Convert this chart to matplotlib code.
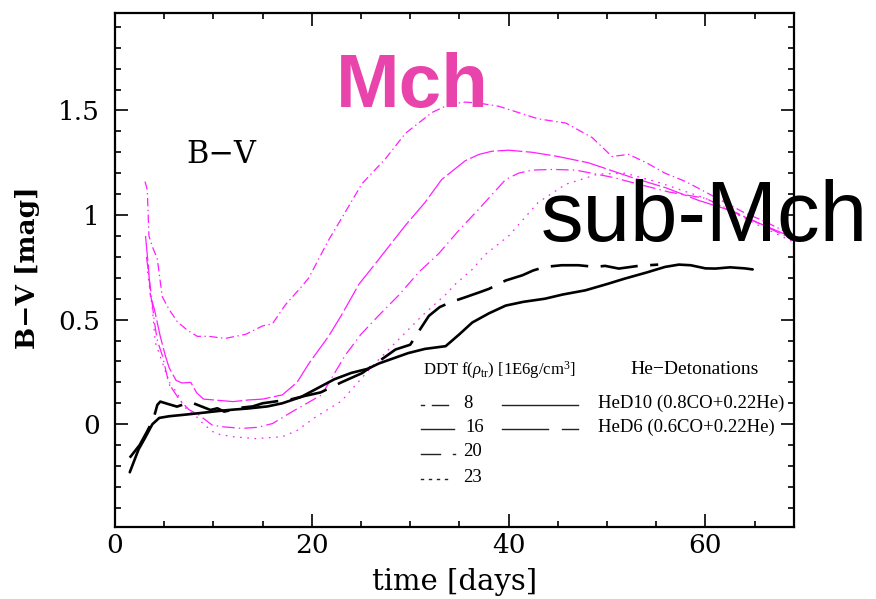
import numpy as np
import matplotlib
matplotlib.use("Agg")
import matplotlib.pyplot as plt
from matplotlib.lines import Line2D

plt.rcParams['mathtext.fontset'] = 'custom'
plt.rcParams['mathtext.rm'] = 'Liberation Serif'
plt.rcParams['mathtext.it'] = 'Liberation Serif:italic'
plt.rcParams['lines.scale_dashes'] = False

# ---------------- data ----------------
# Mch DDT models, f(rho_tr) = 8, 16, 20, 23
t8 = [3.05, 3.28, 3.45, 3.79, 4.3, 4.8, 5.48, 6.33, 7.34, 8.36, 9.54, 11.2, 13.3, 15.0, 16.0,
      17.3, 19.0, 19.7, 21.7, 23.1, 25.1, 27.5, 29.5, 32.2, 34.0, 35.6, 37.0, 39.0, 41.0, 43.0,
      45.8, 48.5, 50.5, 52.2, 54.0, 55.9, 58.0, 60.0, 62.0, 64.0, 66.0, 69.0]
v8 = [1.16, 1.12, 0.90, 0.85, 0.79, 0.61, 0.55, 0.49, 0.45, 0.42, 0.42, 0.41, 0.43, 0.47, 0.48,
      0.57, 0.66, 0.70, 0.88, 0.99, 1.15, 1.27, 1.39, 1.49, 1.53, 1.54, 1.535, 1.52, 1.49, 1.46,
      1.44, 1.37, 1.28, 1.29, 1.25, 1.20, 1.16, 1.11, 1.06, 1.01, 0.97, 0.90]

t16 = [3.1, 3.4, 3.6, 4.0, 4.6, 5.1, 5.5, 6.2, 6.8, 7.7, 8.3, 9.0, 10.0, 12.0, 13.6, 15.0, 17.0,
       18.5, 19.7, 21.7, 23.0, 24.8, 26.5, 28.0, 29.5, 31.5, 33.2, 35.6, 37.0, 38.3, 40.0, 42.4,
       45.0, 48.1, 50.0, 52.5, 56.0, 59.3, 62.0, 65.0, 69.0]
v16 = [0.90, 0.75, 0.615, 0.55, 0.42, 0.33, 0.27, 0.21, 0.197, 0.20, 0.15, 0.12, 0.116, 0.108,
       0.116, 0.12, 0.14, 0.20, 0.29, 0.42, 0.52, 0.67, 0.77, 0.86, 0.95, 1.06, 1.17, 1.26, 1.29,
       1.305, 1.31, 1.30, 1.28, 1.25, 1.22, 1.18, 1.13, 1.07, 1.03, 0.97, 0.89]

t20 = [3.2, 3.6, 4.0, 4.3, 4.8, 5.3, 5.8, 6.5, 7.5, 8.5, 9.9, 11.1, 12.9, 14.5, 16.0, 18.3, 21.0,
       23.4, 25.0, 26.8, 28.8, 30.9, 32.9, 35.0, 37.0, 39.7, 41.0, 42.4, 44.5, 46.8, 50.6, 53.0,
       56.3, 60.0, 65.0, 69.0]
v20 = [0.80, 0.65, 0.49, 0.40, 0.33, 0.23, 0.17, 0.12, 0.07, 0.045, -0.005, -0.013, -0.02,
       -0.015, 0.003, 0.068, 0.14, 0.33, 0.43, 0.52, 0.615, 0.728, 0.816, 0.93, 1.03, 1.17, 1.20,
       1.215, 1.218, 1.215, 1.18, 1.15, 1.11, 1.08, 0.97, 0.88]

t23 = [3.3, 3.8, 4.1, 5.0, 5.6, 6.2, 7.0, 8.3, 9.0, 10.2, 12.0, 14.3, 17.0, 18.5, 20.4, 23.0,
       26.0, 28.5, 31.2, 33.6, 34.6, 36.3, 37.6, 40.0, 41.5, 43.0, 45.8, 49.1, 51.8, 55.0, 60.0,
       65.0, 69.0]
v23 = [0.73, 0.55, 0.39, 0.27, 0.18, 0.16, 0.084, 0.035, 0.0, -0.045, -0.06, -0.069, -0.06,
       -0.03, 0.035, 0.11, 0.27, 0.39, 0.518, 0.62, 0.67, 0.74, 0.81, 0.90, 0.98, 1.06, 1.147,
       1.196, 1.20, 1.16, 1.08, 0.96, 0.87]

# sub-Mch He-detonations
t_hed10 = [1.5, 2.4, 3.0, 3.8, 4.5, 5.5, 7.0, 9.0, 10.9, 12.1, 13.5, 15.5, 17.0, 18.9, 20.5,
           22.3, 24.0, 25.7, 26.8, 28.0, 29.8, 31.5, 33.6, 35.0, 36.3, 38.0, 39.7, 41.5, 43.7,
           45.5, 47.8, 50.0, 51.8, 54.0, 55.9, 57.3, 58.5, 60.0, 61.0, 62.5, 64.0, 64.8]
v_hed10 = [-0.23, -0.12, -0.07, 0.0, 0.03, 0.038, 0.045, 0.055, 0.065, 0.07, 0.075, 0.085, 0.10,
           0.13, 0.17, 0.215, 0.245, 0.265, 0.29, 0.31, 0.34, 0.36, 0.373, 0.43, 0.486, 0.53,
           0.567, 0.585, 0.60, 0.62, 0.64, 0.67, 0.696, 0.725, 0.752, 0.763, 0.76, 0.745, 0.744,
           0.75, 0.745, 0.74]

t_hed6 = [1.5, 2.5, 3.2, 3.9, 4.3, 4.6, 5.5, 6.3, 6.8, 7.7, 8.4, 9.7, 10.4, 11.1, 12.1, 13.0,
          14.0, 15.0, 16.5, 18.0, 19.2, 20.9, 23.0, 25.1, 26.8, 28.5, 30.0, 30.9, 31.9, 33.0,
          34.1, 35.6, 37.0, 38.0, 39.7, 41.4, 42.5, 43.7, 45.4, 47.1, 48.8, 49.8, 51.2, 53.2, 55.2]
v_hed6 = [-0.16, -0.10, -0.04, 0.024, 0.092, 0.108, 0.095, 0.084, 0.092, 0.105, 0.092, 0.068,
          0.076, 0.06, 0.071, 0.08, 0.085, 0.10, 0.11, 0.12, 0.134, 0.152, 0.20, 0.244, 0.30,
          0.357, 0.38, 0.446, 0.518, 0.56, 0.583, 0.607, 0.63, 0.647, 0.687, 0.712, 0.735, 0.752,
          0.76, 0.76, 0.752, 0.757, 0.744, 0.757, 0.763]

x_ticks = [0, 20, 40, 60]
y_ticks = [0, 0.5, 1, 1.5]
y_ticklabels = ['0', '0.5', '1', '1.5']
ddt_labels = ['8', '16', '20', '23']
he_labels = ['HeD10 (0.8CO+0.22He)', 'HeD6 (0.6CO+0.22He)']

# ---------------- figure ----------------
W, H = 876, 599
fig = plt.figure(figsize=(W / 100, H / 100), dpi=100)
ax = fig.add_axes([115 / W, 1 - 527.3 / H, (794 - 115) / W, (527.3 - 13) / H])

mag = '#FF1EFF'
lw_m = 0.9
ax.plot(t8, v8, color=mag, lw=lw_m, linestyle=(0, (6, 2.5, 1, 2.5)))
ax.plot(t16, v16, color=mag, lw=lw_m, linestyle=(0, (18, 2.5)))
ax.plot(t20, v20, color=mag, lw=lw_m, linestyle=(0, (9, 3, 1, 3)))
ax.plot(t23, v23, color=mag, lw=lw_m, linestyle=(0, (1.2, 4.0)))

ax.plot(t_hed10, v_hed10, color='black', lw=1.9, solid_capstyle='round')
ax.plot(t_hed6, v_hed6, color='black', lw=1.9, linestyle=(0, (27, 9)))

ax.set_xlim(0, 69)
ax.set_ylim(-0.493, 1.966)
ax.set_xticks(x_ticks)
ax.set_xticks(np.arange(0, 70, 5), minor=True)
ax.set_yticks(y_ticks)
ax.set_yticklabels(y_ticklabels)
ax.set_yticks(np.arange(-0.4, 1.96, 0.1), minor=True)
ax.tick_params(which='both', direction='in', top=True, right=True, width=1.2, color='black')
ax.tick_params(which='major', length=9.5)
ax.tick_params(which='minor', length=4.5)
ax.tick_params(axis='x', which='major', pad=4)
ax.tick_params(axis='y', which='major', pad=11)
for lab in ax.get_xticklabels() + ax.get_yticklabels():
    lab.set_fontfamily('DejaVu Serif')
    lab.set_fontsize(19)
for s in ax.spines.values():
    s.set_linewidth(1.6)


def fx(px):
    return px / W


def fy(py):
    return 1 - py / H


# axis labels
fig.text(fx(28), fy(268), 'B\u2212V [mag]', rotation=90, ha='center', va='center',
         family='DejaVu Serif', fontsize=19, fontweight='bold')
fig.text(fx(455), fy(582), 'time [days]', ha='center', va='center',
         family='DejaVu Serif', fontsize=21)

# in-plot labels
fig.text(fx(221), fy(154), 'B\u2212V', ha='center', va='center',
         family='DejaVu Serif', fontsize=22)
fig.text(fx(336), fy(107), 'Mch', ha='left', va='baseline', family='Liberation Sans',
         fontweight='bold', fontsize=55, color='#E944AB', zorder=5)
fig.text(fx(541), fy(241), 'sub-Mch', ha='left', va='baseline', family='Liberation Sans',
         fontsize=61.5, color='black', zorder=5)

# legend block
lfs = 12.5
fig.text(fx(423), fy(370), r'DDT f($\rho_{\rm tr}$) [1E6g/cm$^{3}$]', ha='left', va='center',
         family='Liberation Serif', fontsize=12)
fig.text(fx(630), fy(370), 'He\u2212Detonations', ha='left', va='center',
         family='Liberation Serif', fontsize=14)
rows_y = [405, 429, 454, 479]
num_x = [463, 465, 463, 463]
for lab, yy, xx in zip(ddt_labels, rows_y, num_x):
    fig.text(fx(xx), fy(yy - 2), lab, ha='left', va='center', family='Liberation Serif',
             fontsize=13.5)
for lab, yy in zip(he_labels, rows_y[:2]):
    fig.text(fx(598), fy(yy - 2), lab, ha='left', va='center', family='Liberation Serif',
             fontsize=13.5)

seg_specs = [
    [(421, 424, 405), (432, 448, 405)],
    [(421, 454, 429)],
    [(421, 440, 454), (453, 455, 454)],
    [(421, 423, 479), (429, 431, 479), (437, 439, 479), (445, 447, 479)],
    [(502, 578, 405)],
    [(502, 548, 429), (562, 578, 429)],
]
for segs in seg_specs:
    for x0, x1, yy in segs:
        fig.add_artist(Line2D([fx(x0), fx(x1)], [fy(yy), fy(yy)], color='#222222', lw=1.0,
                              transform=fig.transFigure))

fig.savefig('out.png', dpi=100)
